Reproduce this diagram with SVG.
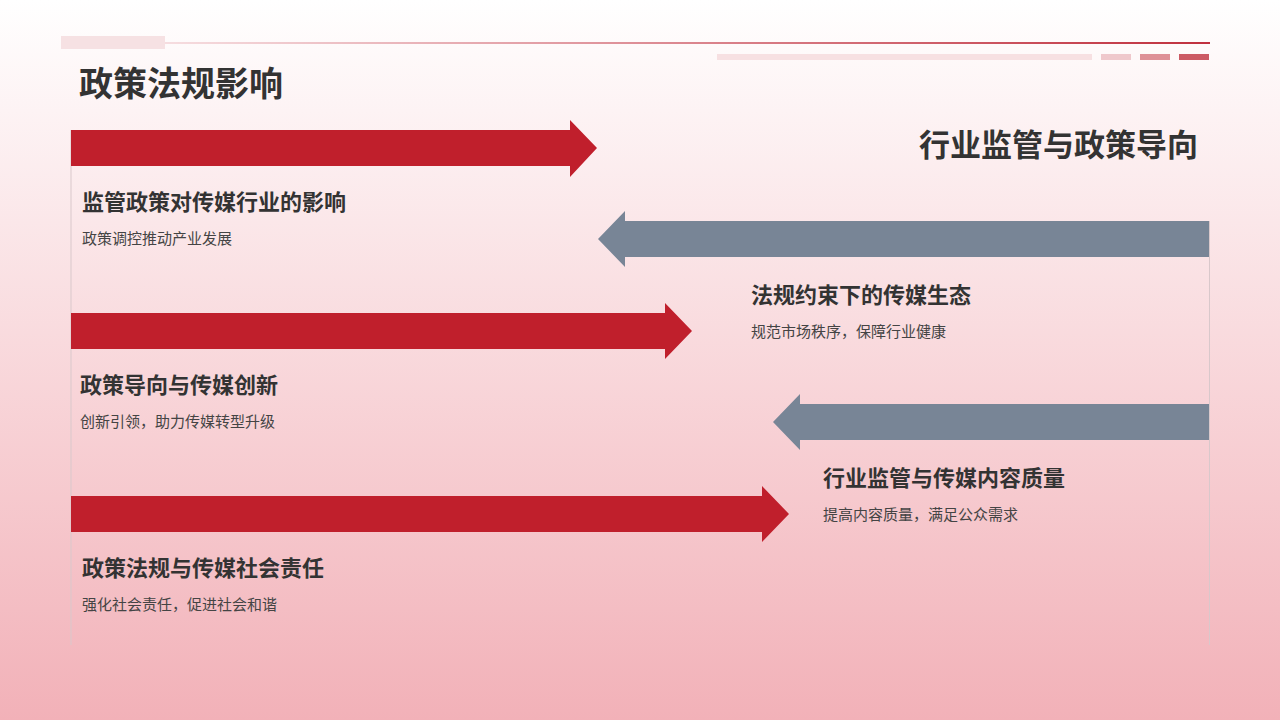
<svg xmlns="http://www.w3.org/2000/svg" width="1280" height="720" viewBox="0 0 1280 720">
<defs>
<linearGradient id="bg" x1="0" y1="0" x2="0" y2="1"><stop offset="0" stop-color="#ffffff"/><stop offset="1" stop-color="#f2b1b8"/></linearGradient>
<linearGradient id="tl" x1="0" y1="0" x2="1" y2="0"><stop offset="0" stop-color="#f6dde0"/><stop offset="1" stop-color="#c0303e"/></linearGradient>
<style>
text{font-family:"Noto Sans CJK SC","Noto Sans",sans-serif;fill:#333}
.h{font-size:22px;font-weight:bold}
.s{font-size:15px;fill:#444}
.red{fill:#c01f2c}.gray{fill:#788596}
.vl{stroke:#d9c8cb;stroke-width:1}
</style>
</defs>
<rect width="1280" height="720" fill="url(#bg)"/>
<rect x="61" y="36" width="104" height="13" fill="#f6e1e3"/>
<rect x="165" y="42" width="1045" height="2" fill="url(#tl)"/>
<rect x="717" y="54" width="375" height="6" fill="#f7e0e2"/>
<rect x="1101" y="54" width="30" height="6" fill="#efc8cc"/>
<rect x="1140" y="54" width="30" height="6" fill="#de9097"/>
<rect x="1179" y="54" width="30" height="6" fill="#cc5a64"/>
<text x="79" y="96" style="font-size:34px;font-weight:bold">政策法规影响</text>
<text x="1198" y="156" text-anchor="end" style="font-size:31px;font-weight:bold">行业监管与政策导向</text>
<g id="lines">
<line class="vl" x1="71" y1="130" x2="71" y2="645"/>
<line class="vl" x1="1209.5" y1="221" x2="1209.5" y2="645"/>
</g>
<g id="n1"><polygon class="red" points="71,130 570,130 570,120 597,148 570,177 570,166 71,166"/>
<text class="h" x="82" y="210">监管政策对传媒行业的影响</text><text class="s" x="82" y="244">政策调控推动产业发展</text></g>
<g id="n2"><polygon class="gray" points="1209,221 625,221 625,211 598,239 625,267 625,257 1209,257"/>
<text class="h" x="751" y="303">法规约束下的传媒生态</text><text class="s" x="751" y="337">规范市场秩序，保障行业健康</text></g>
<g id="n3"><polygon class="red" points="71,313 665,313 665,303 692,331 665,359 665,349 71,349"/>
<text class="h" x="80" y="393">政策导向与传媒创新</text><text class="s" x="80" y="427">创新引领，助力传媒转型升级</text></g>
<g id="n4"><polygon class="gray" points="1209,404 800,404 800,394 773,422 800,450 800,440 1209,440"/>
<text class="h" x="823" y="486">行业监管与传媒内容质量</text><text class="s" x="823" y="520">提高内容质量，满足公众需求</text></g>
<g id="n5"><polygon class="red" points="71,496 762,496 762,486 789,514 762,542 762,532 71,532"/>
<text class="h" x="82" y="576">政策法规与传媒社会责任</text><text class="s" x="82" y="610">强化社会责任，促进社会和谐</text></g>
</svg>
